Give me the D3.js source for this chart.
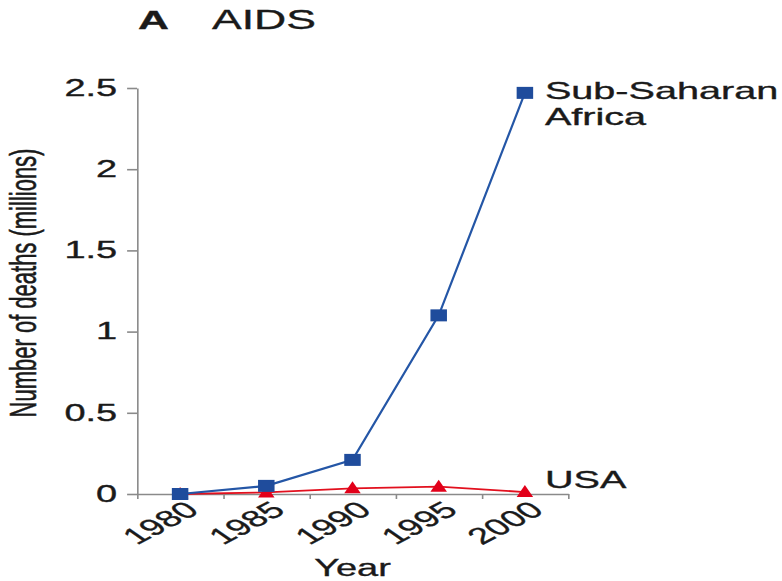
<!DOCTYPE html>
<html lang="en">
<head>
    <meta charset="UTF-8">
    <script src="https://d3js.org/d3.v7.min.js"></script>
    <title>AIDS</title>
    <style>
        body{ margin: 0; background-color: #ffffff; }
        svg text{ font-family: "Liberation Sans", Arial, sans-serif; fill: #1a1a1a; stroke: #1a1a1a; stroke-width: 0.35; }
        .axis path, .axis line{ stroke: #8a8a8a; stroke-width: 1.6; vector-effect: non-scaling-stroke; }
    </style>
</head>
<body>
    <div id="chart"></div>
<script>
// data
const years = [1980, 1985, 1990, 1995, 2000];
const africa = [0.0, 0.05, 0.21, 1.1, 2.47];
const usa = [0.0, 0.01, 0.035, 0.045, 0.012];
const yTicks = [0, 0.5, 1, 1.5, 2, 2.5];

// the original figure is stretched sideways, so draw in a narrower box and stretch it
const stretch = 1.65;
const W = 782 / stretch, H = 581;
const svg = d3.select("#chart").append("svg")
    .attr("width", 782).attr("height", 581)
    .attr("viewBox", `0 0 ${W} ${H}`)
    .attr("preserveAspectRatio", "none");

const x = d3.scaleLinear().domain([1977.5, 2002.5]).range([137 / stretch, 568 / stretch]);
const y = d3.scaleLinear().domain([0, 2.5]).range([494, 88]);

// title
svg.append("text").attr("x", 138 / stretch).attr("y", 29).attr("font-size", 26).attr("font-weight", "bold").text("A");
svg.append("text").attr("x", 212 / stretch).attr("y", 29).attr("font-size", 27).text("AIDS");

// y axis
const yAxis = svg.append("g").attr("class", "axis").attr("transform", `translate(${x(1977.5)},0)`)
    .call(d3.axisLeft(y).tickValues(yTicks).tickFormat(d3.format("")).tickSize(6).tickPadding(6).tickSizeOuter(0));
yAxis.selectAll("text").attr("font-size", 23).attr("fill", "#1a1a1a");

// x axis: tick marks on the boundaries, labels at the years
const bounds = years.map(d => d - 2.5).concat([2002.5]);
const xAxis = svg.append("g").attr("class", "axis").attr("transform", `translate(0,${y(0)})`)
    .call(d3.axisBottom(x).tickValues(bounds).tickFormat("").tickSize(5).tickSizeOuter(0));
const xLab = svg.append("g").attr("transform", `translate(0,${y(0)})`)
    .call(d3.axisBottom(x).tickValues(years).tickFormat(d3.format("d")).tickSize(0));
xLab.select(".domain").remove();
xLab.selectAll("text")
    .attr("font-size", 23)
    .attr("fill", "#1a1a1a")
    .attr("text-anchor", "end")
    .attr("dy", 0)
    .attr("y", 0)
    .attr("transform", "translate(12,18) rotate(-41)");

// axis titles
svg.append("text").attr("text-anchor", "middle").attr("font-size", 23)
    .attr("x", (x(1977.5) + x(2002.5)) / 2).attr("y", 576).text("Year");
svg.append("text").attr("text-anchor", "middle").attr("font-size", 22)
    .attr("transform", `translate(${36 / stretch},283) rotate(-90)`)
    .text("Number of deaths (millions)");

// lines
const line = d3.line().x((d, i) => x(years[i])).y(d => y(d));
svg.append("path").datum(usa).attr("d", line)
    .attr("fill", "none").attr("stroke", "#e2101e").attr("stroke-width", 1.8)
    .style("vector-effect", "non-scaling-stroke");
svg.append("path").datum(africa).attr("d", line)
    .attr("fill", "none").attr("stroke", "#2456a6").attr("stroke-width", 2.2)
    .style("vector-effect", "non-scaling-stroke");

// markers
svg.selectAll(".tri").data(usa).enter().append("path").attr("class", "tri")
    .attr("d", (d, i) => {
        const cx = x(years[i]), cy = y(d);
        return `M${cx},${cy - 7}L${cx + 5},${cy + 5}L${cx - 5},${cy + 5}Z`;
    })
    .attr("fill", "#e2001a");
svg.selectAll(".sq").data(africa).enter().append("rect").attr("class", "sq")
    .attr("x", (d, i) => x(years[i]) - 5).attr("y", d => y(d) - 6)
    .attr("width", 10).attr("height", 12)
    .attr("fill", "#1f4c9c");

// series labels
const lx = x(2000) + 20 / stretch;
svg.append("text").attr("x", lx).attr("y", y(africa[4]) + 6).attr("font-size", 24).text("Sub-Saharan");
svg.append("text").attr("x", lx).attr("y", y(africa[4]) + 32).attr("font-size", 24).text("Africa");
svg.append("text").attr("x", lx).attr("y", y(usa[4]) - 4).attr("font-size", 24).text("USA");
</script>
</body>
</html>
